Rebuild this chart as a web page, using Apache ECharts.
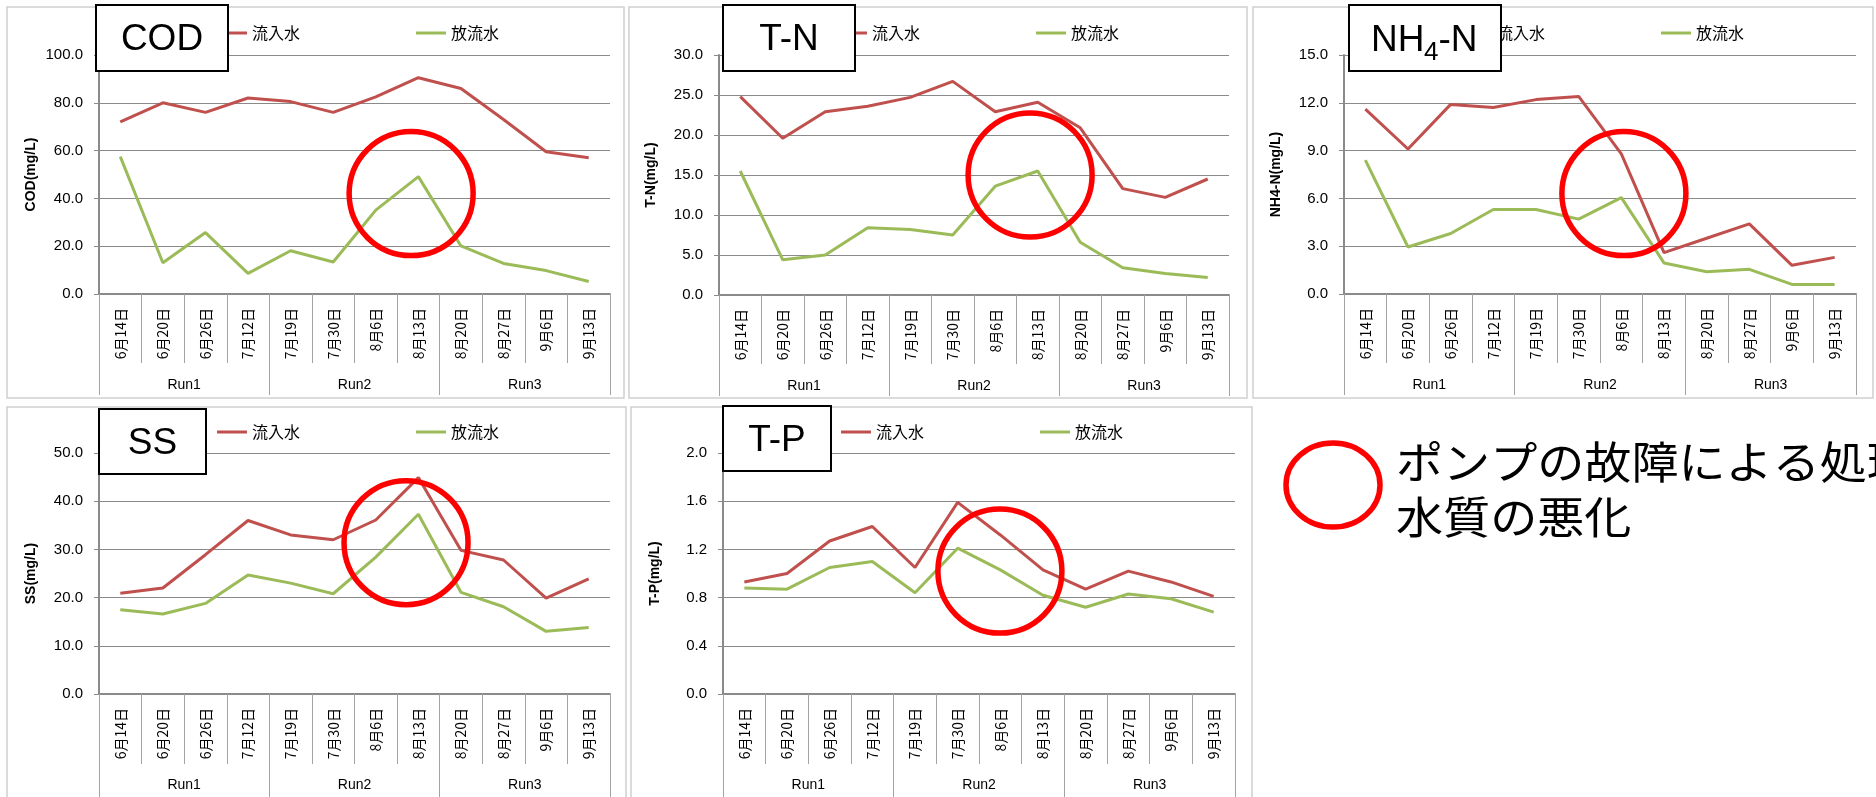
<!DOCTYPE html>
<html>
<head>
<meta charset="utf-8">
<script src="https://cdn.jsdelivr.net/npm/echarts@6/dist/echarts.min.js"></script>
<style>
  html, body { margin: 0; padding: 0; background: #ffffff; }
  #c { width: 1876px; height: 797px; }
</style>
</head>
<body>
<div id="c"></div>
<script>
// Sampling dates and run groups
const dates = ['6月14日', '6月20日', '6月26日', '7月12日', '7月19日', '7月30日',
               '8月6日', '8月13日', '8月20日', '8月27日', '9月6日', '9月13日'];
const runs = ['Run1', 'Run2', 'Run3'];
const seriesNames = ['流入水', '放流水'];

// Influent / effluent concentrations (mg/L)
const codIn  = [72, 80, 76, 82, 80.5, 76, 82.5, 90.5, 86, 73, 59.5, 57];
const codOut = [57.5, 13.1, 25.7, 8.6, 18.1, 13.4, 35.1, 49.1, 20.1, 12.8, 9.8, 5.2];
const tnIn   = [24.8, 19.6, 22.9, 23.6, 24.7, 26.7, 22.9, 24.1, 20.9, 13.3, 12.2, 14.5];
const tnOut  = [15.5, 4.4, 5.0, 8.4, 8.2, 7.5, 13.6, 15.5, 6.6, 3.4, 2.7, 2.2];
const nh4In  = [11.6, 9.1, 11.9, 11.7, 12.2, 12.4, 8.8, 2.6, 3.5, 4.4, 1.8, 2.3];
const nh4Out = [8.4, 2.95, 3.8, 5.3, 5.3, 4.7, 6.05, 1.95, 1.4, 1.55, 0.6, 0.6];
const ssIn   = [20.9, 22.0, 28.9, 36.0, 33.0, 32.0, 36.1, 44.9, 29.8, 27.8, 19.9, 23.9];
const ssOut  = [17.5, 16.6, 18.8, 24.7, 23.0, 20.8, 28.4, 37.3, 21.1, 18.1, 13.0, 13.8];
const tpIn   = [0.93, 1.00, 1.27, 1.39, 1.05, 1.59, 1.32, 1.03, 0.87, 1.02, 0.93, 0.81];
const tpOut  = [0.88, 0.87, 1.05, 1.10, 0.84, 1.21, 1.03, 0.82, 0.72, 0.83, 0.79, 0.68];

// Axis ranges per parameter: [max, interval]
const axisRanges = { COD: [100, 20], TN: [30, 5], NH4: [15, 3], SS: [50, 10], TP: [2.0, 0.4] };

// Highlighted period (pump failure) in data coordinates: [category position, value]
const failureMarks = { COD: [6.83, 42], TN: [6.82, 15], NH4: [6.06, 6.3], SS: [6.71, 31.4], TP: [5.99, 1.02] };

const noteLines = ['ポンプの故障による処理', '水質の悪化'];

// ---- styling ----
const FONT_NUM = '"Liberation Sans", Arial, sans-serif';
const FONT_JP = '"Noto Sans CJK JP", sans-serif';
const AXIS_GRAY = '#8a8a8a';
const DIV_GRAY = '#a3a3a3';
const FRAME_GRAY = '#cfcfcf';
const RED = '#C0504D';
const GREEN = '#9BBB59';
const RING_RED = '#FF0000';

// ---- panel layout ----
const panels = [
  { key: 'COD', title: 'COD', unit: 'COD(mg/L)', inflow: codIn, outflow: codOut,
    grid: { left: 99, top: 55, width: 511, height: 239 }, frame: [7, 7, 617, 391], box: [96, 5, 132, 66], legendY: 33, bottomRow: false },
  { key: 'TN', title: 'T-N', unit: 'T-N(mg/L)', inflow: tnIn, outflow: tnOut,
    grid: { left: 719, top: 55, width: 510, height: 240 }, frame: [629, 7, 618, 391], box: [723, 5, 132, 66], legendY: 33, bottomRow: false },
  { key: 'NH4', title: null, unit: 'NH4-N(mg/L)', inflow: nh4In, outflow: nh4Out,
    grid: { left: 1344, top: 55, width: 512, height: 239 }, frame: [1253, 7, 620, 391], box: [1349, 5, 152, 66], legendY: 33, bottomRow: false },
  { key: 'SS', title: 'SS', unit: 'SS(mg/L)', inflow: ssIn, outflow: ssOut,
    grid: { left: 99, top: 453, width: 511, height: 241 }, frame: [7, 407, 619, 400], box: [99, 409, 107, 65], legendY: 432, bottomRow: true },
  { key: 'TP', title: 'T-P', unit: 'T-P(mg/L)', inflow: tpIn, outflow: tpOut,
    grid: { left: 723, top: 453, width: 512, height: 241 }, frame: [631, 407, 621, 400], box: [723, 406, 108, 65], legendY: 432, bottomRow: true }
];

const grids = [], xAxes = [], yAxes = [], series = [], legends = [];

panels.forEach((p, i) => {
  const [max, step] = axisRanges[p.key];
  grids.push(Object.assign({ containLabel: false }, p.grid));

  // date axis with category dividers
  xAxes.push({
    gridIndex: i, type: 'category', data: dates, boundaryGap: true, position: 'bottom',
    axisLine: { show: true, onZero: false, lineStyle: { color: AXIS_GRAY, width: 2 } },
    axisTick: { show: true, interval: 0, length: p.bottomRow ? 70 : 69, lineStyle: { color: DIV_GRAY, width: 1 } },
    axisLabel: { interval: 0, rotate: 90, margin: 14, fontSize: 14, fontFamily: FONT_JP, color: '#000' },
    splitLine: { show: false }
  });
  // run grouping axis below the dates
  xAxes.push({
    gridIndex: i, type: 'category', data: runs, boundaryGap: true, position: 'bottom', offset: 0,
    axisLine: { show: false },
    axisTick: { show: true, interval: 0, length: p.bottomRow ? 115 : 101, lineStyle: { color: DIV_GRAY, width: 1 } },
    axisLabel: { interval: 0, margin: 84, fontSize: 14, fontFamily: FONT_NUM, color: '#000' },
    splitLine: { show: false }
  });

  yAxes.push({
    gridIndex: i, type: 'value', min: 0, max: max, interval: step,
    axisLine: { show: true, lineStyle: { color: AXIS_GRAY, width: 2 } },
    axisTick: { show: true, length: 5, lineStyle: { color: AXIS_GRAY } },
    splitLine: { show: true, lineStyle: { color: AXIS_GRAY, width: 1 } },
    axisLabel: { margin: 16, fontSize: 15, fontFamily: FONT_NUM, color: '#000', formatter: v => v.toFixed(1) }
  });

  series.push({
    name: seriesNames[0], type: 'line', xAxisIndex: 2 * i, yAxisIndex: i, data: p.inflow,
    symbol: 'none', lineStyle: { width: 3, color: RED }, itemStyle: { color: RED }, z: 3
  });
  series.push({
    name: seriesNames[1], type: 'line', xAxisIndex: 2 * i, yAxisIndex: i, data: p.outflow,
    symbol: 'none', lineStyle: { width: 3, color: GREEN }, itemStyle: { color: GREEN }, z: 3
  });

  legends.push({
    data: seriesNames, left: p.grid.left + 118, top: p.legendY - 8, padding: 0,
    icon: 'rect', itemWidth: 30, itemHeight: 3, itemGap: 116, selectedMode: false,
    textStyle: { fontSize: 16, fontFamily: FONT_JP, color: '#000' }
  });
});

const chart = echarts.init(document.getElementById('c'), null, { renderer: 'canvas' });
chart.setOption({
  animation: false,
  backgroundColor: '#ffffff',
  grid: grids, xAxis: xAxes, yAxis: yAxes, series: series, legend: legends
});

// ---- frames, title boxes, axis names, failure rings and note ----
function plainText(x, y, text, size, align, extra) {
  return Object.assign({ type: 'text', z: 101, silent: true, x: x, y: y,
    style: { text: text, fontSize: size, fontFamily: FONT_NUM, fill: '#000',
             textAlign: align, textVerticalAlign: 'middle', align: align, verticalAlign: 'middle' } }, extra || {});
}

const graphics = [];
panels.forEach((p, i) => {
  const [fx, fy, fw, fh] = p.frame;
  graphics.push({ type: 'rect', z: -10, silent: true,
    shape: { x: fx, y: fy, width: fw, height: fh },
    style: { fill: 'none', stroke: FRAME_GRAY, lineWidth: 1.5 } });

  // vertical axis name, bold, reading bottom to top
  const nameEl = plainText(p.grid.left - 68, p.grid.top + p.grid.height / 2, p.unit, 14, 'center', { rotation: Math.PI / 2, z: 5 });
  nameEl.style.fontWeight = 'bold';
  graphics.push(nameEl);

  const [bx, by, bw, bh] = p.box;
  graphics.push({ type: 'rect', z: 100, silent: true,
    shape: { x: bx, y: by, width: bw, height: bh },
    style: { fill: '#ffffff', stroke: '#000000', lineWidth: 2 } });
  const cx = bx + bw / 2, cy = by + bh / 2 + 2;
  if (p.title) {
    graphics.push(plainText(cx, cy, p.title, 37, 'center'));
  } else {
    // NH4-N with a subscript 4
    graphics.push(plainText(cx - 54, cy + 1, 'NH', 37, 'left'));
    graphics.push(plainText(cx - 1, cy + 13, '4', 26, 'left'));
    graphics.push(plainText(cx + 13.5, cy + 1, '-N', 37, 'left'));
  }

  // ring around the failure period, placed through the panel's axes
  const [catPos, val] = failureMarks[p.key];
  const finder = { xAxisIndex: 2 * i, yAxisIndex: i };
  const a = chart.convertToPixel(finder, [0, val]);
  const b = chart.convertToPixel(finder, [1, val]);
  const px = a[0] + (b[0] - a[0]) * catPos;
  graphics.push({ type: 'ellipse', z: 110, silent: true,
    shape: { cx: px, cy: a[1], rx: 62, ry: 62 },
    style: { fill: 'none', stroke: RING_RED, lineWidth: 5.5 } });
});

// note explaining the ring
graphics.push({ type: 'ellipse', z: 110, silent: true,
  shape: { cx: 1333, cy: 485, rx: 47, ry: 42 },
  style: { fill: 'none', stroke: RING_RED, lineWidth: 5.5 } });
noteLines.forEach((t, k) => {
  graphics.push({ type: 'text', z: 110, silent: true, x: 1396, y: 462 + k * 55, scaleX: 1.07,
    style: { text: t, fontSize: 44, fontFamily: FONT_JP, fill: '#000',
             textAlign: 'left', textVerticalAlign: 'middle', align: 'left', verticalAlign: 'middle' } });
});

chart.setOption({ graphic: { elements: graphics } });
</script>
</body>
</html>
